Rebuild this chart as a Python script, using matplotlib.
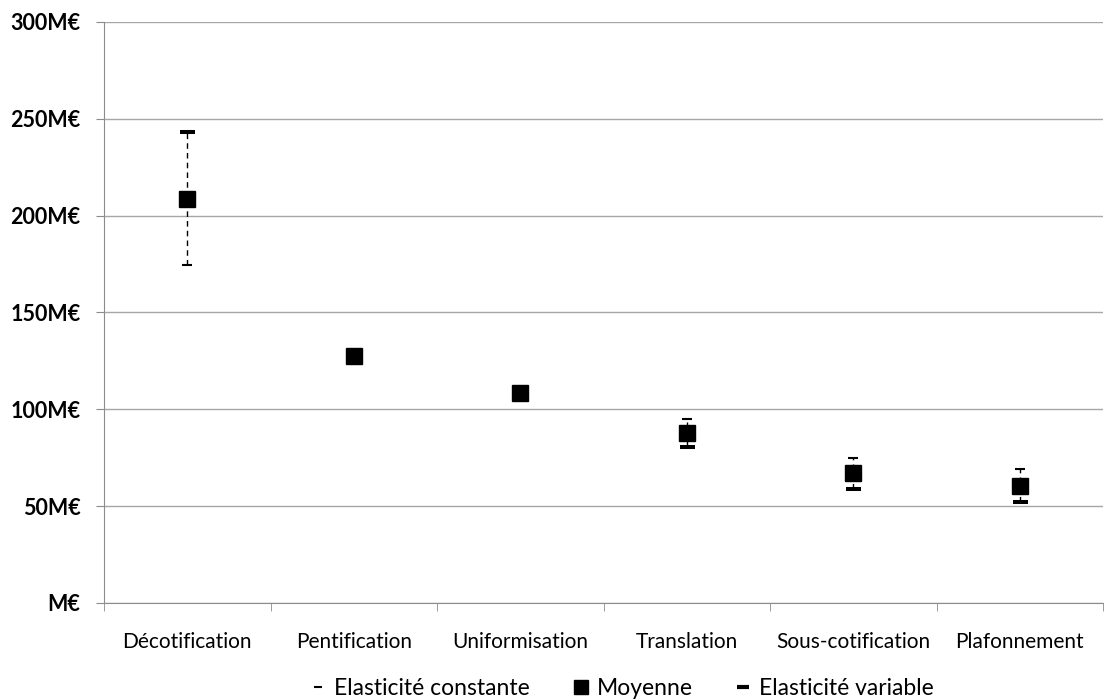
import matplotlib.pyplot as plt
from matplotlib.lines import Line2D

plt.rcParams["font.family"] = ["Lato", "DejaVu Sans"]

categories = ["Décotification", "Pentification", "Uniformisation", "Translation",
              "Sous-cotification", "Plafonnement"]
moyenne = [208.6, 127.5, 108.4, 87.8, 67.3, 60.4]
elast_constante = [174.5, 127.5, 108.4, 95.0, 74.9, 69.2]
elast_variable = [243.2, 127.5, 108.4, 80.6, 58.9, 52.1]
yticks = [0, 50, 100, 150, 200, 250, 300]
ytick_labels = ["M€", "50M€", "100M€", "150M€", "200M€", "250M€", "300M€"]

fig = plt.figure(figsize=(11.04, 7), dpi=100)
ax = fig.add_axes([0.0942, 0.1386, 0.905, 0.83])

x = list(range(len(categories)))

# high-low lines
lo = [min(a, b) for a, b in zip(elast_constante, elast_variable)]
hi = [max(a, b) for a, b in zip(elast_constante, elast_variable)]
ax.vlines(x, lo, hi, colors="black", linestyles=(0, (4, 3)), lw=1, zorder=3)

ax.plot(x, elast_constante, ls="none", marker="_", ms=7.2, mew=1.5,
        color="black", zorder=4)
ax.plot(x, moyenne, ls="none", marker="s", ms=11.5, color="black", zorder=5)
ax.plot(x, elast_variable, ls="none", marker="_", ms=10.8, mew=2.9,
        color="black", zorder=4)

ax.set_xlim(-0.5, len(categories) - 0.5)
ax.set_ylim(0, 300)
ax.set_yticks(yticks)
ax.set_yticklabels(ytick_labels, fontsize=15.5, fontweight="bold")
ax.yaxis.grid(True, color="#a6a6a6", lw=1)
ax.set_axisbelow(True)

ax.set_xticks(x)
ax.set_xticklabels(categories, fontsize=15)
ax.tick_params(axis="x", length=0, pad=21)
ax.set_xticks([i - 0.5 for i in range(len(categories) + 1)], minor=True)
ax.tick_params(axis="x", which="minor", length=6, color="#8c8c8c")
ax.tick_params(axis="y", length=6, color="#8c8c8c", pad=11)

for side in ["top", "right"]:
    ax.spines[side].set_visible(False)
for side in ["left", "bottom"]:
    ax.spines[side].set_color("#8c8c8c")

handles = [
    Line2D([], [], ls="none", marker="_", ms=6, mew=1.5, color="black"),
    Line2D([], [], ls="none", marker="s", ms=10, color="black"),
    Line2D([], [], ls="none", marker="_", ms=9, mew=3, color="black"),
]
labels = ["Elasticité constante", "Moyenne", "Elasticité variable"]
fig.legend(handles, labels, loc="center", bbox_to_anchor=(0.563, 0.017),
           ncol=3, frameon=False, fontsize=16.5, handlelength=0.8,
           handletextpad=0.3, columnspacing=1.8)

fig.savefig("out.png", dpi=100)
